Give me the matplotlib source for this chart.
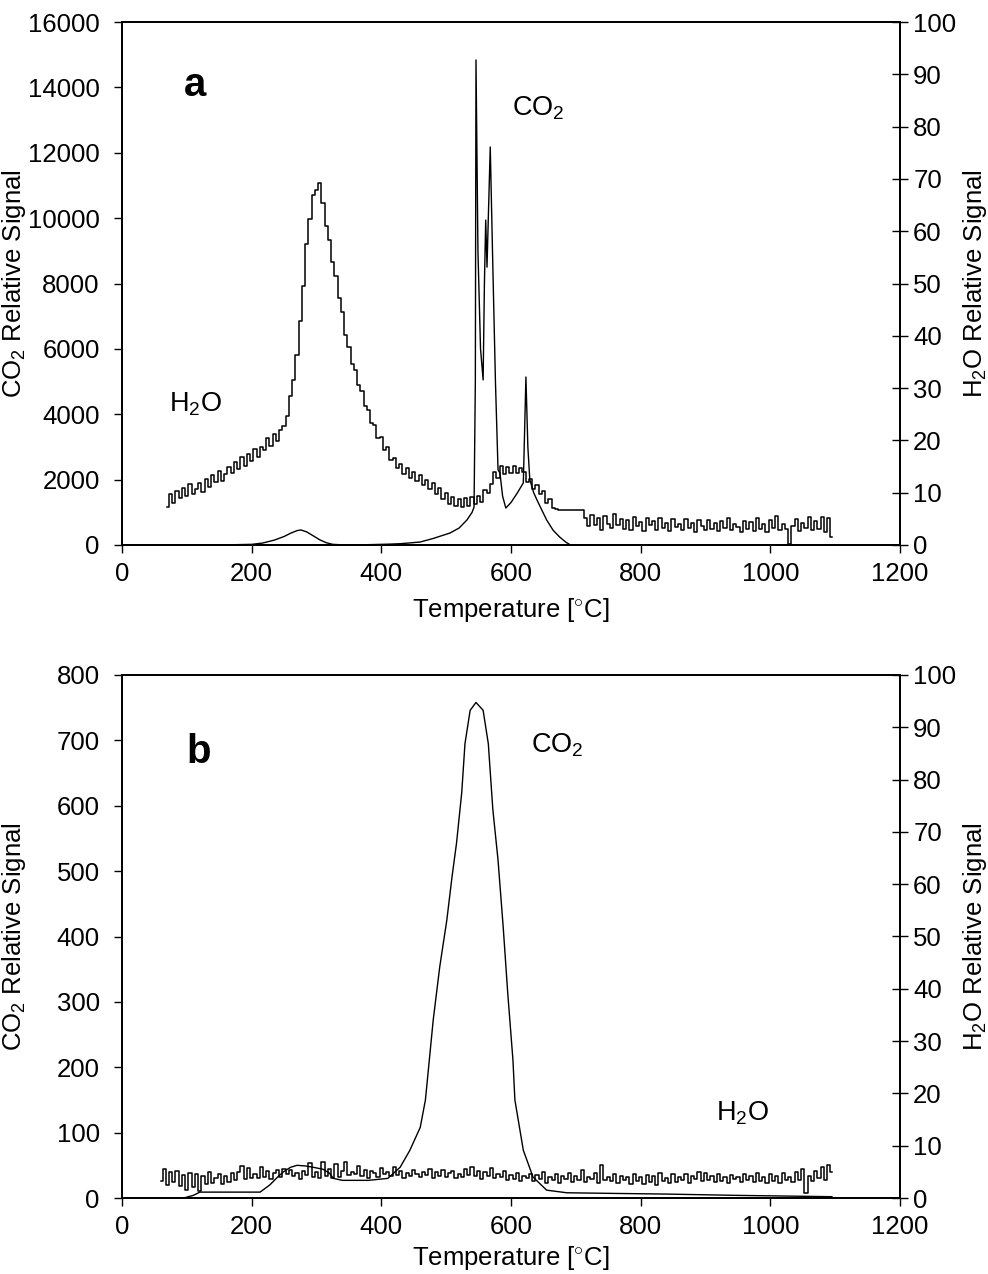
import numpy as np
import matplotlib
matplotlib.use("Agg")
import matplotlib.pyplot as plt

plt.rcParams["font.family"] = ["Liberation Sans", "DejaVu Sans"]
plt.rcParams["mathtext.fontset"] = "custom"
plt.rcParams["mathtext.rm"] = "Liberation Sans"
plt.rcParams["mathtext.it"] = "Liberation Sans:italic"

# ---- panel a: CO2 (left axis), smooth trace
co2_a_T = [60, 150, 200, 217, 235, 250, 260, 270, 276, 285, 295, 305, 315, 325,
           340, 380, 410, 429, 445, 460, 480, 506, 520, 532, 540, 543, 545,
           546, 549, 553, 557, 559, 561, 563, 565, 568, 572, 576, 580, 583,
           587, 592, 600, 610, 619, 621, 623, 626, 629, 635, 640, 648, 655,
           665, 675, 685, 691, 700, 1095]
co2_a = [0, 0, 20, 60, 150, 260, 360, 440, 460, 400, 280, 160, 70, 20,
         5, 10, 25, 40, 65, 92, 200, 367, 520, 765, 1000, 1160, 5000,
         14840, 9000, 6000, 5050, 8000, 9940, 8500, 10000, 12175, 8500, 5000, 2300, 2200,
         1500, 1130, 1300, 1600, 1900, 3500, 5140, 3000, 2000, 1600, 1380, 1050, 765,
         450, 245, 80, 10, 0, 0]

# ---- panel a: H2O (right axis), 5 degC sampling from 70 to 1095
h2o_a_T = np.arange(70, 1100, 5)
h2o_a = [
    7.2, 9.8, 8.1, 10.4, 8.9, 10.9, 9.3, 11.6, 9.7, 10.8,
    11.9, 10.2, 12.6, 11.1, 13.4, 12.0, 14.1, 12.3, 13.6, 15.0,
    13.8, 15.9, 14.6, 16.8, 15.2, 17.4, 16.1, 18.3, 16.9, 18.8,
    18.2, 20.4, 18.9, 21.3, 19.8, 21.9, 22.8, 24.6, 28.4, 31.5,
    36.4, 42.8, 49.5, 57.6, 62.4, 66.9, 67.8, 69.2, 65.3, 61.0,
    58.3, 54.1, 51.4, 47.2, 44.5, 40.1, 37.9, 34.6, 33.4, 30.6,
    29.4, 26.5, 25.9, 23.3, 22.9, 20.4, 20.6, 18.1, 18.7, 16.3,
    16.6, 14.8, 15.5, 13.6, 14.7, 12.8, 13.9, 12.2, 13.3, 11.5,
    12.4, 10.7, 11.9, 9.8, 10.9, 8.8, 9.9, 7.9, 9.2, 7.5,
    8.8, 7.2, 8.9, 7.4, 9.1, 7.8, 9.4, 8.3, 10.5, 9.9,
    11.6, 13.9, 12.8, 15.2, 13.6, 15.0, 13.8, 15.1, 13.7, 14.8,
    13.9, 12.0, 12.6, 10.7, 11.5, 9.8, 10.3, 8.1, 8.7, 7.0,
    6.9, 6.7, 6.7, 6.7, 6.7, 6.7, 6.7, 6.7, 6.7, 5.1,
    3.6, 5.8, 3.9, 5.2, 2.8, 5.5, 4.1, 3.2, 5.9, 3.8,
    5.0, 3.1, 4.8, 2.9, 5.4, 3.6, 4.4, 2.7, 5.2, 3.9,
    4.6, 2.8, 5.1, 3.3, 4.2, 2.6, 4.9, 3.5, 4.0, 2.9,
    5.0, 3.2, 4.3, 2.5, 4.7, 3.6, 2.9, 4.8, 3.1, 4.2,
    2.7, 4.5, 3.3, 5.1, 2.8, 4.0, 3.5, 2.4, 4.6, 3.0,
    4.4, 2.6, 5.2, 3.1, 4.0, 2.5, 4.8, 3.3, 5.6, 2.9,
    4.1, 3.0, 0.2, 3.7, 5.0, 2.7, 4.3, 3.2, 5.4, 2.8,
    4.6, 3.1, 5.3, 2.4, 5.2, 1.6,
]

# ---- panel b: CO2 (left axis), smooth trace
co2_b_T = [95, 110, 120, 150, 213, 228, 240, 249, 260, 270, 283, 295, 310, 320,
           326, 340, 380, 410, 429, 444, 460, 468, 474, 480, 490, 501, 509,
           516, 524, 529, 537, 546, 557, 565, 572, 580, 588, 595, 603, 606,
           619, 634, 655, 686, 760, 840, 950, 1095]
co2_b = [0, 4, 9, 9, 9, 20, 32, 40, 47, 50, 49, 47, 44, 38,
         30, 27, 27, 30, 47, 73, 108, 150, 211, 272, 353, 425, 491,
         543, 620, 695, 746, 758, 746, 695, 594, 517, 414, 313, 211, 150,
         73, 32, 12, 8, 7, 6, 4, 2]

# ---- panel b: H2O (right axis), 5 degC sampling from 60 to 1095
h2o_b_T = np.arange(60, 1100, 5)
h2o_b = [
    3.2, 5.6, 2.4, 4.9, 3.0, 5.1, 2.2, 4.4, 1.6, 4.8,
    2.1, 4.6, 1.4, 4.2, 2.6, 5.0, 2.9, 3.8, 4.5, 2.7,
    4.3, 3.1, 4.7, 3.4, 4.9, 6.1, 3.6, 5.8, 3.9, 4.6,
    3.8, 6.0, 4.1, 5.2, 3.7, 4.8, 5.4, 4.0, 5.6, 4.5,
    5.3, 4.2, 4.8, 3.6, 5.1, 4.4, 6.7, 4.0, 5.0, 3.9,
    6.9, 4.3, 5.5, 3.8, 6.5, 4.1, 5.2, 6.8, 4.4, 5.0,
    4.6, 6.2, 4.3, 5.4, 3.9, 5.1, 4.7, 4.0, 5.8, 4.5,
    5.0, 4.2, 6.0, 4.4, 5.1, 3.9, 4.8, 4.3, 5.3, 4.6,
    4.1, 5.0, 4.4, 5.6, 3.8, 4.9, 4.2, 5.3, 4.0, 4.7,
    5.2, 3.9, 4.6, 4.1, 5.5, 4.4, 6.0, 4.2, 5.2, 3.7,
    4.9, 4.3, 5.7, 3.8, 4.6, 4.0, 5.1, 3.5, 4.4, 3.6,
    4.8, 3.3, 4.2, 3.9, 4.6, 3.2, 4.4, 3.7, 4.9, 2.9,
    4.1, 3.4, 4.5, 2.8, 4.3, 3.6, 4.8, 3.1, 4.2, 3.5,
    5.4, 3.0, 4.1, 3.6, 4.7, 2.9, 6.3, 3.4, 4.0, 3.2,
    4.5, 2.8, 4.3, 3.5, 4.0, 2.7, 4.6, 3.3, 4.1, 2.6,
    4.4, 3.0, 4.2, 2.5, 4.7, 3.3, 3.9, 2.8, 4.5, 3.1,
    4.0, 3.4, 4.6, 2.9, 4.3, 3.6, 5.0, 3.2, 4.8, 3.5,
    4.2, 3.0, 4.5, 3.3, 4.1, 2.9, 4.4, 3.6, 4.0, 3.1,
    4.6, 3.4, 4.2, 3.0, 4.8, 3.3, 4.1, 2.8, 4.5, 3.2,
    4.3, 2.9, 4.7, 3.5, 4.0, 3.1, 4.9, 3.4, 5.6, 1.0,
    4.2, 3.3, 5.2, 3.8, 5.9, 3.5, 6.4, 4.9,
]

x_ticks = [0, 200, 400, 600, 800, 1000, 1200]
h2o_ticks = [0, 10, 20, 30, 40, 50, 60, 70, 80, 90, 100]

FS = 18.5


def style(ax, rax, ymax, ystep, letter, co2_pos, h2o_pos, xlab_y):
    ax.set_xlim(0, 1200)
    ax.set_ylim(0, ymax)
    rax.set_ylim(0, 100)
    ax.set_xticks(x_ticks)
    ax.set_yticks(np.arange(0, ymax + 1, ystep))
    rax.set_yticks(h2o_ticks)
    ax.tick_params(axis="x", direction="out", length=6, width=1, pad=6, labelsize=FS)
    ax.tick_params(axis="y", direction="out", length=6, width=1, pad=10, labelsize=FS)
    rax.tick_params(axis="y", direction="inout", length=11, width=1, pad=4, labelsize=FS)
    for a in (ax, rax):
        for s in a.spines.values():
            s.set_linewidth(1.3)
    ax.set_xlabel("Temperature [$^{\\circ}$C]", fontsize=FS)
    ax.set_ylabel("CO$_2$ Relative Signal", fontsize=FS)
    rax.set_ylabel("H$_2$O Relative Signal", fontsize=FS)
    ax.xaxis.set_label_coords(0.5, xlab_y)
    ax.yaxis.set_label_coords(-0.121, 0.5)
    rax.yaxis.set_label_coords(1.079, 0.5)
    ax.text(letter[0], letter[1], letter[2], transform=ax.transAxes,
            fontsize=29, fontweight="bold", ha="center", va="center")
    ax.text(co2_pos[0], co2_pos[1], "CO$_2$", transform=ax.transAxes,
            fontsize=19.5, ha="center", va="center")
    ax.text(h2o_pos[0], h2o_pos[1], "H$_2$O", transform=ax.transAxes,
            fontsize=19.5, ha="center", va="center")


fig = plt.figure(figsize=(9.88, 12.74), dpi=100)

# panel a
ax1 = fig.add_axes([122 / 988, 1 - 545 / 1274, 778 / 988, 523 / 1274])
r1 = ax1.twinx()
ax1.plot(co2_a_T, co2_a, color="black", linewidth=1.0)
r1.plot(h2o_a_T, h2o_a, color="black", linewidth=1.1, drawstyle="steps-mid")
style(ax1, r1, 16000, 2000, (0.094, 0.88, "a"), (0.535, 0.836), (0.094, 0.27), -0.098)

# panel b
ax2 = fig.add_axes([122 / 988, 1 - 1198 / 1274, 778 / 988, 523 / 1274])
r2 = ax2.twinx()
ax2.plot(co2_b_T, co2_b, color="black", linewidth=1.0)
r2.plot(h2o_b_T, h2o_b, color="black", linewidth=1.1, drawstyle="steps-mid")
style(ax2, r2, 800, 100, (0.098, 0.853, "b"), (0.56, 0.866), (0.798, 0.163), -0.088)

fig.savefig("out.png", dpi=100)
